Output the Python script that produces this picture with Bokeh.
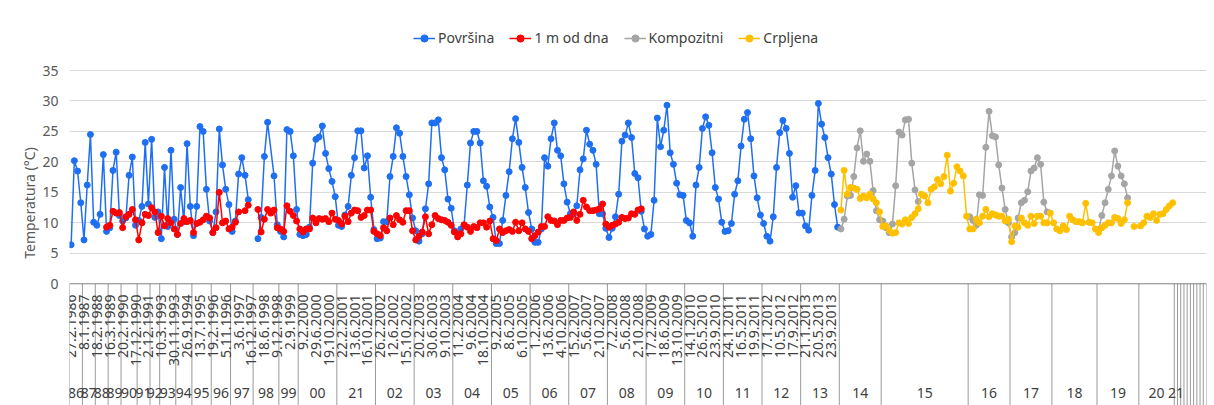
import math
from bokeh.plotting import figure
from bokeh.models import Range1d, FixedTicker, Legend, LegendItem, Span
from bokeh.core.properties import value
from bokeh.embed import file_html
from bokeh.resources import INLINE

NA = "#N/A"   # Excel #N/A cell: no marker, line joined across it; None = empty cell (line broken)

# ---------------- categories ----------------
year_labels = ["86", "87", "88", "89", "90", "91", "92", "93", "94", "95", "96", "97", "98", "99",
               "00", "21", "02", "03", "04", "05", "06", "07", "08", "09", "10", "11", "12", "13",
               "14", "15", "16", "17", "18", "19", "20", "21",
               "", "", "", "", "", "", "", "", ""]
year_sizes = [4, 4, 4, 4, 5, 4, 3, 5, 5, 6, 6, 7, 8, 6,
              12, 12, 12, 12, 12, 12, 12, 12, 12, 12, 12, 12, 12, 12,
              13, 27, 13, 13, 14, 13, 11, 1,
              1, 1, 1, 1, 1, 1, 1, 1, 1]
date_labels = ["27.2.1986", "8.1.1987", "18.2.1988", "16.3.1989", "20.2.1990", "17.12.1990",
               "2.12.1991", "10.3.1993", "30.11.1993", "26.9.1994", "13.7.1995", "19.2.1996",
               "5.11.1996", "3.6.1997", "16.12.1997", "18.6.1998", "9.12.1998", "2.9.1999",
               "9.2.2000", "29.6.2000", "19.10.2000", "22.2.2001", "13.6.2001", "16.10.2001",
               "26.2.2002", "12.6.2002", "15.10.2002", "20.2.2003", "30.6.2003", "9.10.2003",
               "11.2.2004", "9.6.2004", "18.10.2004", "9.2.2005", "8.6.2005", "6.10.2005",
               "1.2.2006", "13.6.2006", "4.10.2006", "15.2.2007", "5.6.2007", "2.10.2007",
               "7.2.2008", "5.6.2008", "2.10.2008", "17.2.2009", "18.6.2009", "13.10.2009",
               "14.1.2010", "26.5.2010", "23.9.2010", "24.1.2011", "16.5.2011", "19.9.2011",
               "17.1.2012", "10.5.2012", "17.9.2012", "21.1.2013", "20.5.2013", "23.9.2013"]
date_label_step = 4

# ---------------- series ----------------
povrsina = [
    6.4, 20.2, 18.5, 13.3, 7.2, 16.2, 24.5, 10.1, 9.6, 11.4,
    21.2, 8.6, 9.2, 18.6, 21.6, 11.2, 10.3, 10.8, 17.8, 20.8,
    9.6, 10.4, 12.7, 23.2, 13.1, 23.7, 10.9, 11.8, 7.4, 19.1,
    9.4, 21.9, 10.6, 8.1, 15.8, 10.2, 23.0, 12.7, 7.9, 12.7,
    25.8, 25.0, 15.5, 10.3, 8.4, 11.8, 25.4, 19.5, 15.5, 13.0,
    8.6, 10.3, 18.0, 20.7, 17.8, 13.8, None, None, 7.4, 10.9,
    20.9, 26.5, NA, 17.7, 9.7, 8.6, 7.7, 25.3, 25.0, 21.0,
    12.2, 8.1, 7.9, 8.1, 9.3, 19.8, 23.7, 24.1, 25.9, 21.4,
    18.9, 16.8, 14.3, 9.6, 9.4, 11.3, 12.7, 17.8, 20.7, 25.1,
    25.1, 19.0, 21.0, 14.2, 8.9, 7.4, 7.5, 10.2, 10.2, 17.6,
    20.9, 25.6, 24.7, 20.9, 17.6, 14.6, 10.8, 8.7, 7.0, 8.2,
    12.3, 16.4, 26.4, 26.4, 26.9, 20.7, 18.7, 13.9, 12.4, 8.7,
    8.3, 9.0, 9.6, 16.2, 23.1, 25.0, 25.0, 23.1, 16.9, 16.0,
    12.6, 10.9, 6.6, 6.6, 10.4, 14.5, 18.4, 23.8, 27.1, 23.2,
    19.1, 15.8, 11.7, 9.0, 6.8, 6.8, 9.0, 20.7, 19.3, 23.8,
    26.4, 21.9, 21.0, 16.4, 13.4, 11.5, 11.4, 12.8, 18.7, 20.5,
    25.2, 22.9, 21.9, 19.6, 11.5, 11.5, 9.1, 7.6, 9.1, 11.0,
    14.7, 23.4, 24.4, 26.4, 24.0, 18.1, 17.4, 11.9, 9.0, 7.8,
    8.1, 13.7, 27.2, 22.5, 25.2, 29.3, 21.5, 19.6, 16.5, 14.6,
    14.5, 10.4, 10.0, 7.8, 16.2, 19.1, 25.5, 27.4, 26.0, 21.5,
    15.8, 13.9, 10.1, 8.6, 8.7, 9.9, 14.7, 16.9, 22.6, 27.0,
    28.1, 23.8, 17.7, 14.1, 11.3, 9.9, 7.8, 7.0, 11.0, 19.1,
    24.8, 26.8, 25.5, 21.4, 14.2, 16.1, 11.6, 11.6, 9.5, 8.8,
    14.5, 18.6, 29.6, 26.2, 24.0, 20.7, 18.0, 13.0, 9.3,
]

od_dna = [None] * 11 + [
    9.3, 9.6, 11.9, 11.6, 11.7, 9.2, 11.0, 11.4, 12.2,
    10.5, 7.2, 10.0, 11.4, 11.2, 12.5, 11.8, 8.4, 11.1, 9.5,
    10.7, 10.0, 9.0, 8.1, 9.9, 10.7, 10.2, 10.4, 8.4, 9.9,
    10.1, 10.5, 11.1, 10.8, 8.4, 9.2, 15.0, 10.0, 10.3, 9.0,
    9.3, 10.1, 11.8, NA, 12.0, 12.9, None, None, 12.2, 8.5,
    10.6, 12.2, 11.6, 12.1, 9.2, 9.0, 8.6, 12.8, 11.9, 11.2,
    10.3, 9.0, 8.5, 9.0, 9.0, 10.8, 10.0, 10.7, 10.6, 10.7,
    10.2, 11.6, 10.6, 10.4, 9.8, 11.1, 10.2, 11.6, 12.1, 12.0,
    10.9, 11.2, 12.1, 12.1, 8.6, 8.2, 7.9, 9.2, 8.7, 10.8,
    9.7, 11.2, 10.5, 10.1, 12.0, 12.0, 8.7, 7.2, 7.8, 8.5,
    11.0, 8.2, 9.7, 11.2, 10.7, 10.5, 10.4, 10.1, 9.6, 8.5,
    7.7, 8.2, 9.7, 9.3, 8.6, 9.4, 9.2, 10.0, 10.0, 9.3,
    10.3, 7.4, 7.1, 9.0, 8.4, 8.7, 8.9, 8.6, 10.1, 8.7,
    10.0, 9.0, 8.6, 7.4, 7.9, 8.5, 9.4, 9.4, 11.0, 10.4,
    10.3, 9.7, 10.4, 10.4, 10.8, 10.9, 11.8, 10.4, 11.4, 13.7,
    12.6, 12.0, 12.0, 12.1, 12.3, 13.1, 9.8, 9.3, 9.6, 9.8,
    10.1, 10.9, 10.7, 10.8, 11.5, 11.4, 12.1, 12.3,
]

kompozitni = [None] * 239 + [
    9.0, 10.6, 14.4, 14.5, 17.6, 22.3, 25.1, 20.1, 21.3, 20.1,
    15.3, 12.0, 10.5, 10.3, 9.2, 8.4, 9.8, 16.1, 24.9, 24.4,
    26.9, 27.0, 19.8, 15.4, 13.5,
] + [None] * 15 + [
    11.0, 10.4, 9.6, 14.6, 14.5, 22.4, 28.3, 24.3, 24.1, 19.5,
    15.7, 12.2, 10.0, 7.7, 8.4, 10.8, 13.3, 13.7, 15.1, 18.5,
    19.0, 20.7, 19.6, 13.4, 11.8,
] + [None] * 15 + [
    8.9, 11.2, 13.3, 15.5, 17.7, 21.8, 19.3, 17.7, 16.4, 14.1,
]

crpljena = [None] * 239 + [
    12.1, 18.6, 14.7, 15.8, 15.7, 15.5, 14.0, 14.4, 14.1, 14.7,
    13.9, 13.3, 11.8, 9.4, 9.5, 8.8, 8.3, 8.4, 10.0, 9.8,
    10.5, 9.9, 10.9, 11.5, 12.3, 14.7, 14.4, 13.3, 15.5, 15.9,
    17.1, 16.4, 17.6, 21.1, 15.2, 16.5, 19.2, 18.5, 17.7, 11.1,
    9.0, 9.0, 10.6, 10.0, 11.1, 12.2, 11.0, 11.5, 11.3, 11.1,
    11.1, 10.3, 10.6, 6.9, 9.5, 9.3, 10.8, 10.0, 9.6, 11.1,
    9.9, 11.1, 11.1, 10.0, 10.0, 11.6, 10.0, 9.0, 8.7, 9.5,
    8.9, 11.1, 10.5, 10.2, 10.2, 10.0, 13.2, 10.1, 10.0, 9.0,
    8.4, 9.2, 9.6, 10.0, 10.0, 10.9, 10.7, 9.9, 10.5, 13.3,
    None, 9.4, None, 9.5, 10.0, 11.1, 10.9, 11.5, 10.4, 11.4,
    11.5, 12.2, 12.8, 13.3,
]

series_names = ["Površina", "1 m od dna", "Kompozitni", "Crpljena"]
series_values = [povrsina, od_dna, kompozitni, crpljena]
series_colors = ["#1F6FF2", "#FF0000", "#A5A5A5", "#FFC000"]

y_ticks = [0, 5, 10, 15, 20, 25, 30, 35]

# ---------------- layout (pixels; page is drawn from the window's top-left) ----------------
W, H = 1214, 405
LEFT, RIGHT = 69, 8
zero_px = 283.3            # y pixel (from top) of value 0
px_per_unit = 6.094
n_cat = sum(year_sizes)

y_hi = zero_px / px_per_unit
y_lo = -(H - zero_px) / px_per_unit

FONT = value("Noto Sans")

p = figure(width=W, height=H, output_backend="svg", toolbar_location=None,
           x_range=Range1d(-0.5, n_cat - 0.5), y_range=Range1d(y_lo, y_hi),
           x_axis_location=None, min_border_left=LEFT, min_border_right=RIGHT,
           min_border_top=0, min_border_bottom=0)
p.outline_line_color = None
p.background_fill_color = "white"
p.border_fill_color = "white"
p.xgrid.visible = False
p.ygrid.ticker = FixedTicker(ticks=y_ticks)
p.ygrid.grid_line_color = "#D9D9D9"
p.ygrid.grid_line_width = 1

ax = p.yaxis[0]
ax.ticker = FixedTicker(ticks=y_ticks)
ax.bounds = (-3.3, y_ticks[-1])        # centres the axis title where Excel puts it
ax.axis_line_color = None
ax.major_tick_line_color = None
ax.minor_tick_line_color = None
ax.major_tick_out = 0
ax.major_tick_in = 0
ax.major_label_standoff = 11
ax.major_label_text_font = "Noto Sans"
ax.major_label_text_font_size = "14px"
ax.major_label_text_color = "#595959"
ax.axis_label = "Temperatura (°C)"
ax.axis_label_standoff = 0
ax.axis_label_text_font = "Noto Sans"
ax.axis_label_text_font_size = "14px"
ax.axis_label_text_font_style = "normal"
ax.axis_label_text_color = "#595959"

# horizontal category axis line
p.add_layout(Span(location=0, dimension="width", line_color="#8C8C8C", line_width=1))

# year group separators and labels
bounds = [0]
for s in year_sizes:
    bounds.append(bounds[-1] + s)
sep_x = [b - 0.5 for b in bounds]
p.segment(x0=sep_x, y0=[0] * len(sep_x), x1=sep_x, y1=[y_lo] * len(sep_x),
          line_color="#9A9A9A", line_width=1)
yl_x = [(bounds[i] + bounds[i + 1] - 1) / 2 for i in range(len(year_sizes)) if year_labels[i]]
yl_t = [year_labels[i] for i in range(len(year_sizes)) if year_labels[i]]
p.text(x=yl_x, y=[-(392 - zero_px) / px_per_unit] * len(yl_x), text=yl_t,
       text_align="center", text_baseline="middle", text_font=FONT,
       text_font_size="14px", text_color="#404040")

# date labels (every 4th category)
dl_x = [i * date_label_step for i in range(len(date_labels))]
p.text(x=dl_x, y=[-(294 - zero_px) / px_per_unit] * len(dl_x), text=date_labels,
       angle=math.pi / 2, text_align="right", text_baseline="middle",
       text_font=FONT, text_font_size="14px", text_color="#404040")


def line_xy(vals):
    xs, ys = [], []
    for i, v in enumerate(vals):
        if v is NA:
            continue
        if v is None:
            if ys and not math.isnan(ys[-1]):
                xs.append(i)
                ys.append(float("nan"))
            continue
        xs.append(i)
        ys.append(v)
    return xs, ys


def point_xy(vals):
    xs = [i for i, v in enumerate(vals) if isinstance(v, (int, float))]
    ys = [vals[i] for i in xs]
    return xs, ys


items = []
for name, vals, col in zip(series_names, series_values, series_colors):
    lx, ly = line_xy(vals)
    px, py = point_xy(vals)
    lr = p.line(lx, ly, line_color=col, line_width=1.5)
    sr = p.scatter(px, py, marker="circle", size=6, fill_color=col, line_color=col)
    items.append(LegendItem(label=name, renderers=[lr, sr]))

legend = Legend(items=items, orientation="horizontal", location=(344, 358),
                label_text_font="Noto Sans", label_text_font_size="14px",
                label_text_color="#404040", glyph_width=22, glyph_height=18,
                label_height=18, label_standoff=3, spacing=15, padding=0, margin=0,
                border_line_color=None, background_fill_alpha=0)
p.add_layout(legend)

open("out.html", "w").write(file_html(p, INLINE))
